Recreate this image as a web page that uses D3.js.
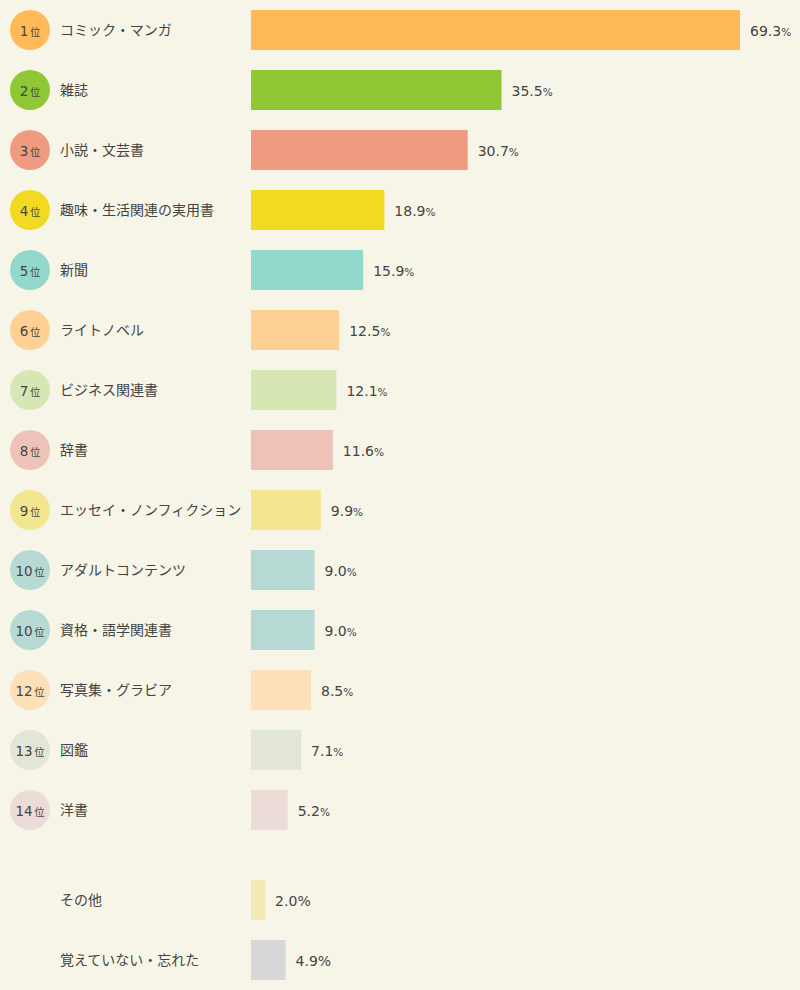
<!DOCTYPE html>
<html><head><meta charset="utf-8">
<script src="https://cdn.jsdelivr.net/npm/d3@7"></script>
<style>
html,body{margin:0;padding:0;background:#F7F5E8;}
svg{display:block;}
</style></head>
<body>
<svg id="chart" width="800" height="990"></svg>
<script>
const categories = ["コミック・マンガ","雑誌","小説・文芸書","趣味・生活関連の実用書","新聞","ライトノベル","ビジネス関連書","辞書","エッセイ・ノンフィクション","アダルトコンテンツ","資格・語学関連書","写真集・グラビア","図鑑","洋書","その他","覚えていない・忘れた"];
const values = [69.3,35.5,30.7,18.9,15.9,12.5,12.1,11.6,9.9,9.0,9.0,8.5,7.1,5.2,2.0,4.9];
const ranks = [1,2,3,4,5,6,7,8,9,10,10,12,13,14,null,null];
const colors = ["#FFB957","#8FC735","#EE9B7F","#F3DA22","#92D9CC","#FED093","#D6E7B3","#EDC3B8","#F3E691","#B6D9D3","#B6D9D3","#FDDFB8","#E1E6D6","#EBDCD7","#F2EBB5","#D6D9D8"];

const svg = d3.select("#chart");
const rowY = i => 10 + i*60 + (i >= 14 ? 30 : 0);
const x = d3.scaleLinear().domain([0, 69.3]).range([251, 740]);
const textColor = "#444";
const jp = "'Noto Sans CJK JP','Noto Sans',sans-serif";
const num = "'DejaVu Sans',Verdana,sans-serif";

const rows = svg.selectAll("g.row").data(values.map((v,i)=>({v,i}))).enter()
  .append("g").attr("class","row");

// rank circles
rows.filter(d => ranks[d.i] !== null).append("circle")
  .attr("cx", 30).attr("cy", d => rowY(d.i) + 20).attr("r", 20)
  .attr("fill", d => colors[d.i]);

const rt = rows.filter(d => ranks[d.i] !== null).append("text")
  .attr("x", 30).attr("y", d => rowY(d.i) + 25.5)
  .attr("text-anchor","middle").attr("fill", textColor);
rt.append("tspan").attr("font-family", num).attr("font-size", 13.5).text(d => ranks[d.i]);
rt.append("tspan").attr("font-family", jp).attr("font-size", 10).attr("dx", 2).text("位");

// category labels
rows.append("text").attr("x", 60).attr("y", d => rowY(d.i) + 25)
  .attr("font-family", jp).attr("font-size", 14).attr("fill", textColor)
  .text(d => categories[d.i]);

// bars
rows.append("rect").attr("x", x(0)).attr("y", d => rowY(d.i))
  .attr("width", d => x(d.v) - x(0)).attr("height", 40)
  .attr("fill", d => colors[d.i]);

// values
const vt = rows.append("text").attr("x", d => x(d.v) + 10).attr("y", d => rowY(d.i) + 25.5)
  .attr("font-family", num).attr("fill", textColor);
vt.append("tspan").attr("font-size", 14).text(d => d.v.toFixed(1));
vt.append("tspan").attr("font-size", d => ranks[d.i] === null ? 14 : 10.5).text("%");
</script>
</body></html>
